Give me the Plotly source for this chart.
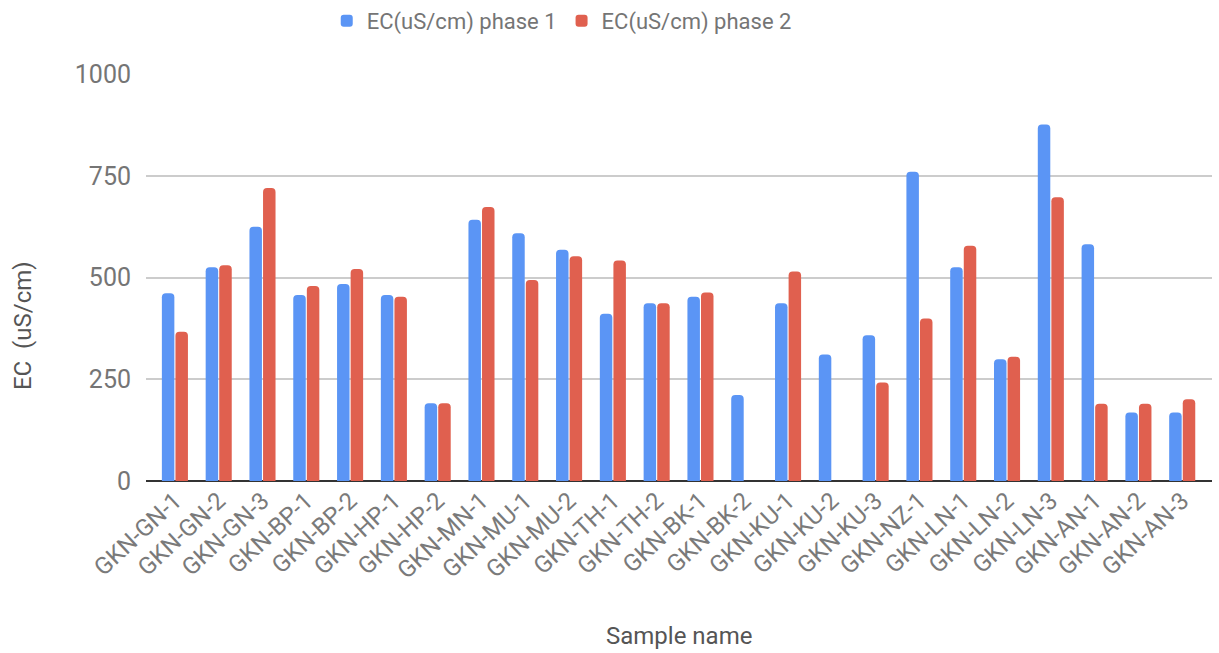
import plotly.graph_objects as go

samples = ["GKN-GN-1", "GKN-GN-2", "GKN-GN-3", "GKN-BP-1", "GKN-BP-2", "GKN-HP-1",
           "GKN-HP-2", "GKN-MN-1", "GKN-MU-1", "GKN-MU-2", "GKN-TH-1", "GKN-TH-2",
           "GKN-BK-1", "GKN-BK-2", "GKN-KU-1", "GKN-KU-2", "GKN-KU-3", "GKN-NZ-1",
           "GKN-LN-1", "GKN-LN-2", "GKN-LN-3", "GKN-AN-1", "GKN-AN-2", "GKN-AN-3"]

phase1 = [461, 525, 625, 457, 484, 457, 191, 642, 609, 568, 411, 437,
          453, 211, 437, 311, 358, 760, 525, 299, 876, 582, 168, 168]

phase2 = [367, 530, 720, 479, 521, 453, 191, 673, 494, 552, 542, 437,
          463, None, 515, None, 242, 399, 578, 305, 697, 190, 190, 201]

y_ticks = [0, 250, 500, 750, 1000]

fig = go.Figure()
fig.add_trace(go.Bar(name="EC(uS/cm) phase 1", x=samples, y=phase1,
                     marker=dict(color="#5B95F5", line=dict(width=0))))
fig.add_trace(go.Bar(name="EC(uS/cm) phase 2", x=samples, y=phase2,
                     marker=dict(color="#E0604F", line=dict(width=0))))

font_family = "Roboto, Arial, sans-serif"

fig.update_layout(
    width=1219, height=653,
    margin=dict(l=146, r=7, t=74, b=172),
    paper_bgcolor="white", plot_bgcolor="white",
    barmode="group", bargap=0.38, bargroupgap=0.08, barcornerradius=4,
    font=dict(family=font_family, size=22, color="#757575"),
    legend=dict(orientation="h", x=0.39, xanchor="center", y=1.0, yref="container",
                yanchor="top", font=dict(size=22, color="#757575"), itemwidth=30,
                traceorder="normal"),
    xaxis=dict(
        type="category", range=[-0.66, 23.68], tickangle=-43,
        showgrid=False, ticks="", showline=False, zeroline=False,
        tickfont=dict(size=24, color="#7a7a7a"),
    ),
    yaxis=dict(
        range=[0, 1000], tickvals=y_ticks, ticktext=[str(v) for v in y_ticks],
        showgrid=True, gridcolor="#cccccc", gridwidth=1.5,
        zeroline=True, zerolinecolor="#333333", zerolinewidth=2,
        showline=False, ticks="", ticklabelstandoff=14,
        tickfont=dict(size=25, color="#757575"),
    ),
    annotations=[
        dict(text="EC\u00a0\u00a0(uS/cm)", xref="paper", yref="paper",
             x=-0.1154, y=0.383, xanchor="center", yanchor="middle",
             textangle=-90, showarrow=False,
             font=dict(size=24, color="#555555")),
        dict(text="Sample name", xref="paper", yref="paper",
             x=0.5, y=-0.381, xanchor="center", yanchor="middle",
             showarrow=False, font=dict(size=24, color="#555555")),
    ],
)

fig.write_html("out.html")
